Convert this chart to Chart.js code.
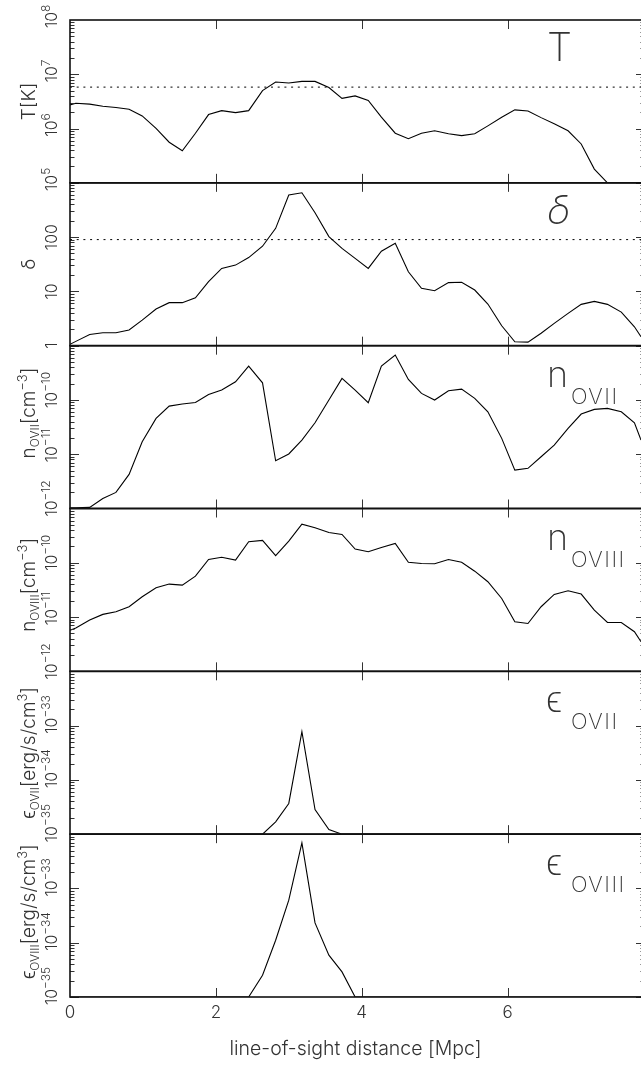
<!DOCTYPE html>
<html>
<head>
<meta charset="utf-8">
<script src="https://cdn.jsdelivr.net/npm/chart.js@4.4.1/dist/chart.umd.min.js"></script>
<style>
  html, body { margin: 0; padding: 0; background: #fff; }
</style>
</head>
<body>
<canvas id="losChart" width="641" height="1068"></canvas>
<script>
// cell positions along the line of sight [Mpc] (first / last = frame edges)
const dist = [0, 0.08, 0.27, 0.45, 0.63, 0.81, 0.99, 1.18, 1.36, 1.54, 1.72, 1.90, 2.08, 2.27, 2.45,
  2.64, 2.82, 3.00, 3.18, 3.36, 3.55, 3.73, 3.91, 4.09, 4.27, 4.46, 4.64, 4.82, 5.00, 5.19, 5.37,
  5.55, 5.73, 5.92, 6.10, 6.28, 6.46, 6.64, 6.83, 7.01, 7.19, 7.37, 7.56, 7.74, 7.83];

const temperature = [2.73e6, 2.92e6, 2.82e6, 2.57e6, 2.45e6, 2.27e6, 1.71e6, 1.01e6, 5.6e5, 3.9e5, 8.2e5,
  1.81e6, 2.14e6, 1.97e6, 2.14e6, 5.0e6, 7.2e6, 6.9e6, 7.4e6, 7.4e6, 5.7e6, 3.6e6, 4.0e6, 3.3e6, 1.62e6,
  8.2e5, 6.5e5, 8.2e5, 9.1e5, 8.0e5, 7.4e5, 8.0e5, 1.12e6, 1.62e6, 2.21e6, 2.11e6, 1.59e6, 1.22e6, 9.1e5,
  5.2e5, 1.79e5, 1.0e5, 1.0e5, 1.0e5, 1.0e5];

const overdensity = [1.06, 1.2, 1.61, 1.73, 1.73, 1.94, 2.96, 4.73, 6.2, 6.2, 7.6, 15.1, 26.5, 30.5, 42,
  68, 145, 596, 657, 281, 102, 62, 40.6, 26.5, 55, 77, 23, 11.4, 10.3, 14.5, 14.7, 10.6, 5.85, 2.33,
  1.18, 1.16, 1.69, 2.58, 3.93, 5.77, 6.55, 5.77, 4.16, 2.23, 1.46];

const nOVII = [1.03e-12, 1.03e-12, 1.05e-12, 1.53e-12, 1.98e-12, 4.25e-12, 1.7e-11, 4.57e-11, 7.7e-11,
  8.4e-11, 9.0e-11, 1.26e-10, 1.52e-10, 2.16e-10, 4.21e-10, 2.07e-10, 7.57e-12, 1.01e-11, 1.82e-11,
  3.8e-11, 9.95e-11, 2.49e-10, 1.52e-10, 8.9e-11, 4.21e-10, 6.7e-10, 2.39e-10, 1.32e-10, 9.95e-11,
  1.48e-10, 1.58e-10, 1.07e-10, 6.05e-11, 1.96e-11, 5.1e-12, 5.5e-12, 8.97e-12, 1.47e-11, 2.99e-11,
  5.5e-11, 6.7e-11, 7.0e-11, 6.05e-11, 3.8e-11, 1.82e-11];

const nOVIII = [5.7e-12, 6.3e-12, 8.8e-12, 1.12e-11, 1.25e-11, 1.55e-11, 2.36e-11, 3.46e-11, 4.05e-11,
  3.88e-11, 5.68e-11, 1.15e-10, 1.26e-10, 1.12e-10, 2.44e-10, 2.58e-10, 1.35e-10, 2.51e-10, 5.16e-10,
  4.42e-10, 3.62e-10, 3.33e-10, 1.79e-10, 1.6e-10, 1.92e-10, 2.28e-10, 1.02e-10, 9.7e-11, 9.6e-11,
  1.15e-10, 1.02e-10, 7.0e-11, 4.47e-11, 2.2e-11, 8.2e-12, 7.6e-12, 1.55e-11, 2.61e-11, 3.05e-11,
  2.65e-11, 1.34e-11, 7.96e-12, 7.96e-12, 5.36e-12, 3.5e-12];

// emissivities, values under the plotted floor sit on 1e-35
const emisOVII = [1e-35, 1e-35, 1e-35, 1e-35, 1e-35, 1e-35, 1e-35, 1e-35, 1e-35, 1e-35, 1e-35, 1e-35,
  1e-35, 1e-35, 1e-35, 1e-35, 1.69e-35, 3.68e-35, 7.7e-34, 2.85e-35, 1.22e-35, 1e-35, 1e-35, 1e-35,
  1e-35, 1e-35, 1e-35, 1e-35, 1e-35, 1e-35, 1e-35, 1e-35, 1e-35, 1e-35, 1e-35, 1e-35, 1e-35, 1e-35,
  1e-35, 1e-35, 1e-35, 1e-35, 1e-35, 1e-35, 1e-35];

const emisOVIII = [1e-35, 1e-35, 1e-35, 1e-35, 1e-35, 1e-35, 1e-35, 1e-35, 1e-35, 1e-35, 1e-35, 1e-35,
  1e-35, 1e-35, 1e-35, 2.52e-35, 1.11e-34, 6.08e-34, 6.9e-33, 2.32e-34, 5.9e-35, 2.9e-35, 1e-35, 1e-35,
  1e-35, 1e-35, 1e-35, 1e-35, 1e-35, 1e-35, 1e-35, 1e-35, 1e-35, 1e-35, 1e-35, 1e-35, 1e-35, 1e-35,
  1e-35, 1e-35, 1e-35, 1e-35, 1e-35, 1e-35, 1e-35];

const xTicks = [0, 2, 4, 6];
const tempThreshold = 5.8e6;   // dotted line, top panel
const deltaThreshold = 90;     // dotted line, overdensity panel

const FONT = '"Inter", "DejaVu Sans", sans-serif';
const INK = '#333';

// panel decorations (top to bottom)
const panels = [
  { id: 'yTemp', exps: [5, 6, 7, 8], plain: false, titleShift: 0,
    title: [['T[K]', 19, 0]], tag: [['T', 40, 0]] },
  { id: 'yDelta', exps: [0, 1, 2], plain: true, titleShift: 0,
    title: [['δ', 19, 0]], tag: [['δ', 40, 0]], italic: true },
  { id: 'yNO7', exps: [-12, -11, -10], plain: false, titleShift: -14,
    title: [['n', 19, 0], ['OVII', 12, 4], ['[cm', 19, 0], ['−3', 13, -8], [']', 19, 0]],
    tag: [['n', 36, 0], ['OVII', 22, 17]] },
  { id: 'yNO8', exps: [-12, -11, -10], plain: false, titleShift: -5,
    title: [['n', 19, 0], ['OVIII', 12, 4], ['[cm', 19, 0], ['−3', 13, -8], [']', 19, 0]],
    tag: [['n', 36, 0], ['OVIII', 22, 17]] },
  { id: 'yEO7', exps: [-35, -34, -33], plain: false, titleShift: 0,
    title: [['ϵ', 19, 0], ['OVII', 12, 4], ['[erg/s/cm', 19, 0], ['3', 13, -8], [']', 19, 0]],
    tag: [['ϵ', 36, 0], ['OVII', 22, 17]] },
  { id: 'yEO8', exps: [-35, -34, -33], plain: false, titleShift: -4,
    title: [['ϵ', 19, 0], ['OVIII', 12, 4], ['[erg/s/cm', 19, 0], ['3', 13, -8], [']', 19, 0]],
    tag: [['ϵ', 36, 0], ['OVIII', 22, 17]] }
];

function fontOf(size, weight, italic) {
  return (italic ? 'italic ' : '') + (weight || 300) + ' ' + size + 'px ' + FONT;
}

// draws a run of [text, size, baselineShift] pieces; rotated = reading upwards
function drawRich(ctx, parts, x, y, rotated, anchor, weight, spacing, italic) {
  ctx.save();
  ctx.translate(x, y);
  if (rotated) ctx.rotate(-Math.PI / 2);
  ctx.textAlign = 'left';
  ctx.textBaseline = 'alphabetic';
  ctx.letterSpacing = spacing || '0px';
  const widths = parts.map(p => { ctx.font = fontOf(p[1], weight, italic); return ctx.measureText(p[0]).width; });
  const total = widths.reduce((a, b) => a + b, 0);
  let pos = 0;
  if (anchor === 'first') pos = -widths[0] / 2;
  if (anchor === 'center') pos = -total / 2;
  parts.forEach((p, i) => {
    ctx.font = fontOf(p[1], weight, italic);
    ctx.fillText(p[0], pos, p[2]);
    pos += widths[i];
  });
  ctx.restore();
}

const expText = e => (e < 0 ? '−' : '') + Math.abs(e);

const framePlugin = {
  id: 'frames',
  afterDatasetsDraw(chart) {
    const ctx = chart.ctx;
    const area = chart.chartArea;
    const xs = chart.scales.x;
    const frameRight = area.right + 4;
    ctx.save();
    ctx.fillStyle = INK;
    panels.forEach(p => {
      const s = chart.scales[p.id];
      const top = s.top, bottom = s.bottom;
      const lo = Math.round(Math.log10(s.min)), hi = Math.round(Math.log10(s.max));

      // log ticks, left and right
      ctx.strokeStyle = INK;
      ctx.lineWidth = 1;
      ctx.beginPath();
      for (let e = lo; e < hi; e++) {
        for (let m = 1; m < 10; m++) {
          const py = Math.round(s.getPixelForValue(m * Math.pow(10, e))) + 0.5;
          const len = m === 1 ? 9 : 4.5;
          ctx.moveTo(area.left, py); ctx.lineTo(area.left + len, py);
          ctx.moveTo(frameRight, py); ctx.lineTo(frameRight - len, py);
        }
      }
      // x ticks on top and bottom of each panel
      xTicks.forEach(v => {
        if (v === 0) return;
        const px = Math.round(xs.getPixelForValue(v)) + 0.5;
        ctx.moveTo(px, top); ctx.lineTo(px, top + 9);
        ctx.moveTo(px, bottom); ctx.lineTo(px, bottom - 9);
      });
      ctx.stroke();

      // frame
      ctx.strokeStyle = '#111';
      ctx.lineWidth = 1.6;
      ctx.strokeRect(area.left, top, frameRight - area.left, bottom - top);

      // rotated tick labels
      p.exps.forEach(e => {
        const py = s.getPixelForValue(Math.pow(10, e));
        const parts = p.plain ? [[String(Math.pow(10, e)), 16, 0]] : [['10', 16, 0], [expText(e), 12, -7]];
        drawRich(ctx, parts, 57, py, true, 'first', 300);
      });

      // axis title
      drawRich(ctx, p.title, 35, (top + bottom) / 2 + p.titleShift, true, 'center', 300);

      // big tag at upper right
      drawRich(ctx, [p.tag[0]], 547, top + 41, false, 'left', 200, '0px', p.italic);
      if (p.tag[1]) {
        drawRich(ctx, [[p.tag[1][0], p.tag[1][1], 0]], 571, top + 41 + p.tag[1][2], false, 'left', 200, '1.5px');
      }
    });
    ctx.restore();
  }
};

const pts = arr => dist.map((x, i) => ({ x: x, y: arr[i] }));
const lineStyle = { borderColor: '#000', borderWidth: 1.1, pointRadius: 0, tension: 0, fill: false };

const logAxis = (min, max) => ({
  type: 'logarithmic', position: 'left', stack: 'panels', stackWeight: 1, min: min, max: max,
  ticks: { display: false }, grid: { display: false, drawTicks: false }, border: { display: false },
  afterFit: s => { s.width = 0; }
});

new Chart(document.getElementById('losChart'), {
  type: 'line',
  data: {
    datasets: [
      Object.assign({ label: 'T', data: pts(temperature), yAxisID: 'yTemp' }, lineStyle),
      Object.assign({ label: 'T threshold', data: [{ x: 0, y: tempThreshold }, { x: 7.83, y: tempThreshold }],
        yAxisID: 'yTemp' }, lineStyle, { borderDash: [2, 4.7], borderWidth: 1 }),
      Object.assign({ label: 'delta', data: pts(overdensity), yAxisID: 'yDelta' }, lineStyle),
      Object.assign({ label: 'delta threshold', data: [{ x: 0, y: deltaThreshold }, { x: 7.83, y: deltaThreshold }],
        yAxisID: 'yDelta' }, lineStyle, { borderDash: [2, 4.7], borderWidth: 1 }),
      Object.assign({ label: 'n OVII', data: pts(nOVII), yAxisID: 'yNO7' }, lineStyle),
      Object.assign({ label: 'n OVIII', data: pts(nOVIII), yAxisID: 'yNO8' }, lineStyle),
      Object.assign({ label: 'eps OVII', data: pts(emisOVII), yAxisID: 'yEO7' }, lineStyle),
      Object.assign({ label: 'eps OVIII', data: pts(emisOVIII), yAxisID: 'yEO8' }, lineStyle)
    ]
  },
  options: {
    responsive: false,
    animation: false,
    events: [],
    layout: { autoPadding: false, padding: { left: 70, top: 20, right: 0, bottom: 0 } },
    plugins: { legend: { display: false }, tooltip: { enabled: false } },
    scales: {
      // stacked panels, listed from the bottom one upwards
      yEO8: logAxis(1e-35, 1e-32),
      yEO7: logAxis(1e-35, 1e-32),
      yNO8: logAxis(1e-12, 1e-9),
      yNO7: logAxis(1e-12, 1e-9),
      yDelta: logAxis(1, 1000),
      yTemp: logAxis(1e5, 1e8),
      x: {
        type: 'linear', position: 'bottom', min: 0, max: 7.83,
        afterBuildTicks: s => { s.ticks = xTicks.map(v => ({ value: v })); },
        ticks: { color: INK, font: { family: FONT, size: 17, weight: '300' }, padding: 6, maxRotation: 0, autoSkip: false },
        grid: { display: false, drawTicks: false },
        border: { display: false },
        title: { display: true, text: 'line-of-sight distance [Mpc]', color: INK,
          font: { family: FONT, size: 19.5, weight: '300' }, padding: { top: 0, bottom: 7 } },
        afterFit: s => { s.height = 71; }
      }
    }
  },
  plugins: [framePlugin]
});
</script>
</body>
</html>
